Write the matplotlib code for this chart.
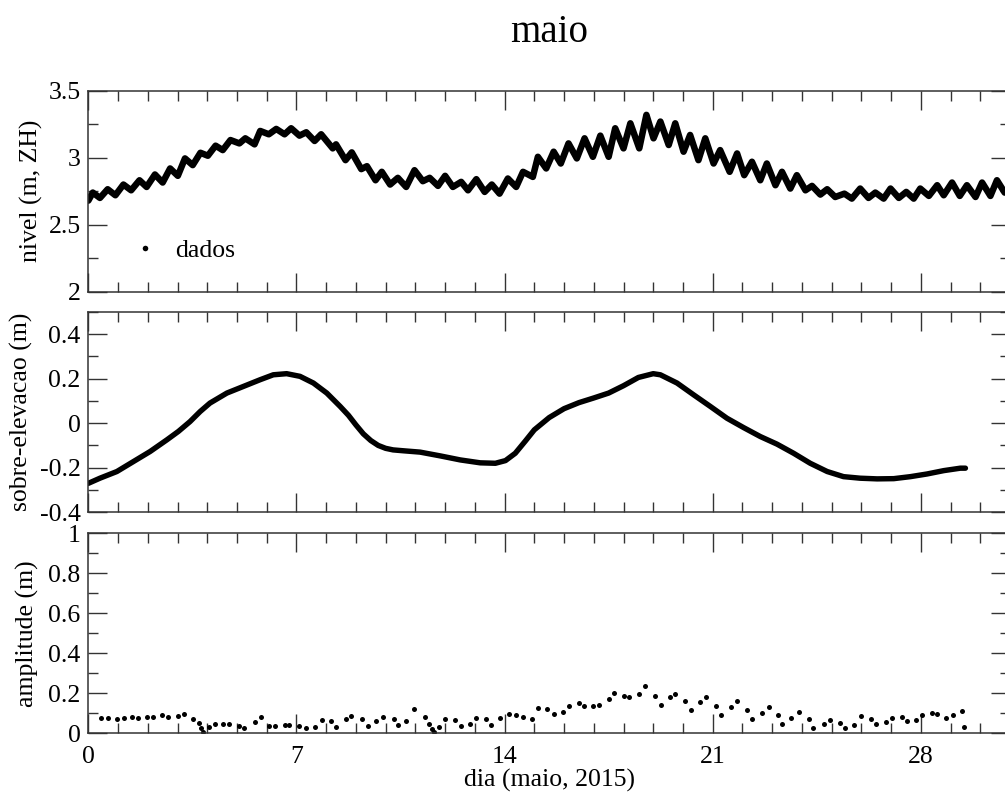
import matplotlib
matplotlib.use("Agg")
import matplotlib.pyplot as plt
from matplotlib.lines import Line2D
from matplotlib.ticker import MultipleLocator, FormatStrFormatter

plt.rcParams['font.family'] = ['Liberation Serif', 'DejaVu Serif']
plt.rcParams['axes.unicode_minus'] = False

# nivel: successive highs and lows of the tide record (dia, m ZH)
nivel_dia = [0.0, 0.15, 0.39, 0.65, 0.91, 1.18, 1.44, 1.72, 1.96, 2.24, 2.50, 2.75, 3.01,
             3.25, 3.51, 3.77, 4.02, 4.28, 4.52, 4.78, 5.08, 5.28, 5.59, 5.78, 6.07,
             6.32, 6.60, 6.82, 7.10, 7.33, 7.61, 7.83, 8.22, 8.33, 8.65, 8.86, 9.18,
             9.37, 9.66, 9.87, 10.15, 10.41, 10.69, 10.97, 11.25, 11.48, 11.76, 12.00,
             12.26, 12.54, 12.77, 13.05, 13.33, 13.57, 13.83, 14.11, 14.39, 14.62,
             14.95, 15.12, 15.40, 15.65, 15.89, 16.15, 16.43, 16.69, 16.97, 17.22,
             17.50, 17.72, 18.00, 18.23, 18.53, 18.77, 19.01, 19.24, 19.52, 19.74,
             20.02, 20.24, 20.52, 20.75, 21.03, 21.25, 21.57, 21.82, 22.06, 22.32,
             22.60, 22.82, 23.11, 23.33, 23.61, 23.83, 24.12, 24.34, 24.62, 24.85,
             25.12, 25.43, 25.68, 25.96, 26.24, 26.47, 26.75, 26.98, 27.26, 27.51,
             27.76, 27.98, 28.27, 28.55, 28.77, 29.05, 29.31, 29.55, 29.84, 30.06,
             30.34, 30.56, 30.82, 31.0]
nivel_m = [2.68, 2.74, 2.70, 2.765, 2.72, 2.80, 2.757, 2.832, 2.782, 2.875, 2.815, 2.92, 2.865,
           2.995, 2.945, 3.037, 3.015, 3.09, 3.057, 3.132, 3.107, 3.145, 3.10, 3.20, 3.175,
           3.215, 3.175, 3.22, 3.165, 3.19, 3.125, 3.175, 3.07, 3.10, 2.982, 3.04, 2.915,
           2.937, 2.832, 2.895, 2.80, 2.85, 2.782, 2.907, 2.825, 2.85, 2.79, 2.865,
           2.782, 2.82, 2.757, 2.84, 2.745, 2.80, 2.732, 2.845, 2.782, 2.895,
           2.857, 3.007, 2.92, 3.045, 2.957, 3.107, 2.995, 3.145, 3.007, 3.165,
           3.007, 3.22, 3.07, 3.257, 3.07, 3.32, 3.145, 3.27, 3.095, 3.257,
           3.045, 3.17, 2.982, 3.145, 2.957, 3.057, 2.895, 3.032, 2.87, 2.97,
           2.832, 2.957, 2.795, 2.895, 2.77, 2.87, 2.757, 2.79, 2.725, 2.765,
           2.707, 2.732, 2.695, 2.77, 2.70, 2.74, 2.695, 2.77, 2.70, 2.745,
           2.695, 2.77, 2.715, 2.795, 2.72, 2.815, 2.715, 2.795, 2.707, 2.815,
           2.715, 2.832, 2.74, 2.78]

# sobre-elevacao (m)
sobre_dia = [0.0, 0.39, 0.96, 1.52, 2.08, 2.64, 3.03, 3.42, 3.76, 4.09, 4.66, 5.22, 5.78,
             6.22, 6.67, 7.12, 7.57, 8.02, 8.47, 8.75, 9.0, 9.25, 9.5, 9.75, 10.0, 10.25,
             10.6, 11.16, 11.84, 12.51, 13.18, 13.69, 14.03, 14.36, 14.7, 15.0, 15.5,
             16.0, 16.5, 17.0, 17.5, 18.0, 18.5, 19.0, 19.24, 19.80, 20.36, 20.92, 21.48,
             22.04, 22.60, 23.16, 23.72, 24.28, 24.85, 25.40, 25.96, 26.53, 27.09, 27.65,
             28.21, 28.77, 29.33, 29.50]
sobre_m = [-0.270, -0.247, -0.217, -0.172, -0.127, -0.075, -0.037, 0.007, 0.052, 0.090,
           0.135, 0.165, 0.195, 0.217, 0.222, 0.210, 0.180, 0.135, 0.075, 0.035, -0.008,
           -0.048, -0.078, -0.100, -0.113, -0.120, -0.124, -0.130, -0.147, -0.165, -0.178,
           -0.180, -0.168, -0.135, -0.080, -0.030, 0.025, 0.065, 0.092, 0.113, 0.135,
           0.168, 0.205, 0.222, 0.217, 0.180, 0.127, 0.075, 0.022, -0.020, -0.060,
           -0.094, -0.135, -0.180, -0.217, -0.240, -0.247, -0.250, -0.249, -0.240,
           -0.228, -0.213, -0.202, -0.202]

# amplitude (m)
amp_dia = [0.43, 0.65, 0.97, 1.19, 1.47, 1.66, 1.96, 2.19, 2.48, 2.68, 3.01, 3.21, 3.51,
           3.73, 3.80, 3.86, 4.05, 4.27, 4.52, 4.74, 5.08, 5.22, 5.59, 5.81, 6.09, 6.29,
           6.63, 6.76, 7.10, 7.33, 7.62, 7.85, 8.17, 8.33, 8.67, 8.84, 9.21, 9.40, 9.68,
           9.91, 10.28, 10.43, 10.69, 10.97, 11.31, 11.47, 11.57, 11.62, 11.81, 12.00,
           12.34, 12.54, 12.82, 13.05, 13.36, 13.55, 13.86, 14.15, 14.39, 14.62, 14.93,
           15.14, 15.42, 15.65, 15.96, 16.16, 16.49, 16.67, 16.99, 17.17, 17.50, 17.69,
           18.03, 18.20, 18.53, 18.72, 19.07, 19.26, 19.57, 19.73, 20.07, 20.26, 20.58,
           20.78, 21.11, 21.28, 21.60, 21.83, 22.15, 22.33, 22.66, 22.88, 23.20, 23.33,
           23.65, 23.90, 24.24, 24.38, 24.73, 24.93, 25.28, 25.44, 25.76, 25.99, 26.31,
           26.49, 26.82, 27.02, 27.36, 27.54, 27.85, 28.04, 28.36, 28.55, 28.85, 29.07,
           29.40, 29.46]
amp_m = [0.075, 0.075, 0.070, 0.075, 0.080, 0.078, 0.080, 0.082, 0.090, 0.083, 0.087,
         0.097, 0.073, 0.053, 0.025, 0.008, 0.033, 0.045, 0.048, 0.047, 0.037, 0.028,
         0.058, 0.080, 0.037, 0.037, 0.040, 0.042, 0.037, 0.025, 0.033, 0.068, 0.063,
         0.033, 0.070, 0.087, 0.072, 0.037, 0.063, 0.083, 0.070, 0.043, 0.063, 0.121,
         0.080, 0.045, 0.022, 0.006, 0.033, 0.070, 0.065, 0.037, 0.048, 0.077, 0.072,
         0.040, 0.075, 0.095, 0.093, 0.082, 0.070, 0.128, 0.123, 0.098, 0.108, 0.138,
         0.150, 0.135, 0.135, 0.143, 0.173, 0.200, 0.188, 0.182, 0.197, 0.238, 0.185,
         0.142, 0.183, 0.195, 0.162, 0.118, 0.155, 0.182, 0.135, 0.093, 0.132, 0.163,
         0.117, 0.073, 0.102, 0.133, 0.093, 0.046, 0.075, 0.108, 0.072, 0.025, 0.048,
         0.068, 0.053, 0.025, 0.040, 0.085, 0.072, 0.045, 0.057, 0.078, 0.082, 0.062,
         0.065, 0.092, 0.100, 0.098, 0.075, 0.093, 0.113, 0.032]

FS = 18.5

fig = plt.figure(figsize=(10.05, 7.96), dpi=100)
left, width = 0.0879, 0.9171
ax1 = fig.add_axes([left, 0.6335, width, 0.2525])
ax2 = fig.add_axes([left, 0.3564, width, 0.2520])
ax3 = fig.add_axes([left, 0.0788, width, 0.2513])


def style(ax, ymaj, ymin, ylim, fmt='%g'):
    ax.set_xlim(0, 31)
    ax.set_ylim(*ylim)
    ax.xaxis.set_major_locator(MultipleLocator(7))
    ax.xaxis.set_minor_locator(MultipleLocator(1))
    ax.yaxis.set_major_locator(MultipleLocator(ymaj))
    ax.yaxis.set_minor_locator(MultipleLocator(ymin))
    ax.yaxis.set_major_formatter(FormatStrFormatter(fmt))
    ax.tick_params(which='both', direction='in', top=True, right=True,
                   labelsize=FS, width=1.0, color='#333333')
    ax.tick_params(which='major', length=14, pad=5.5)
    ax.tick_params(which='minor', length=7.5)
    ax.tick_params(axis='x', which='major', pad=9)
    for sp in ax.spines.values():
        sp.set_linewidth(1.1)
        sp.set_color('#333333')


style(ax1, 0.5, 0.25, (2, 3.5))
style(ax2, 0.2, 0.1, (-0.4, 0.5))
style(ax3, 0.2, 0.1, (0, 1))
ax1.tick_params(labelbottom=False)
ax2.tick_params(labelbottom=False)

ax1.plot(nivel_dia, nivel_m, color='black', lw=4.7,
         solid_joinstyle='round', solid_capstyle='round')
ax2.plot(sobre_dia, sobre_m, color='black', lw=3.9,
         solid_joinstyle='round', solid_capstyle='round')
ax3.plot(amp_dia, amp_m, 'o', color='black', ms=3.6, mew=0)

dot = Line2D([], [], marker='o', ls='none', color='black', ms=4, mew=0)
ax1.legend([dot], ['dados'], loc='center left', bbox_to_anchor=(0.0474, 0.2075),
           frameon=False, fontsize=FS, handlelength=1.0, handletextpad=0.67,
           borderpad=0, borderaxespad=0)

ax1.set_ylabel('nivel (m, ZH)', fontsize=FS, va='center')
ax1.yaxis.set_label_coords(-0.0612, 0.5)
ax2.set_ylabel('sobre-elevacao (m)', fontsize=FS, va='center')
ax2.yaxis.set_label_coords(-0.0725, 0.5)
ax3.set_ylabel('amplitude (m)', fontsize=FS, va='center')
ax3.yaxis.set_label_coords(-0.066, 0.5)
ax3.set_xlabel('dia (maio, 2015)', fontsize=FS, labelpad=1)

fig.text(0.546, 1 - 42 / 796, 'maio', fontsize=28, ha='center', va='baseline')

fig.savefig('out.png', dpi=100)
